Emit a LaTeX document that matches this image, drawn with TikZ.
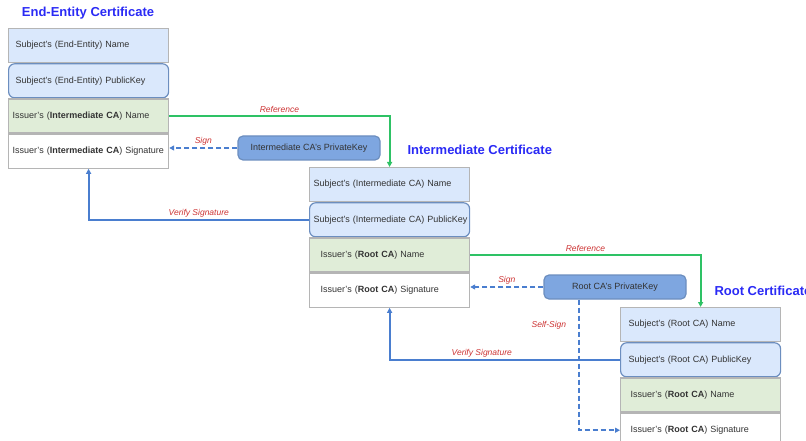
\documentclass[tikz,border=0pt]{standalone}
\usepackage{fontspec}
\setsansfont{Liberation Sans}
\usepackage{xcolor}
\usetikzlibrary{arrows.meta,positioning,calc}

\definecolor{subjfill}{HTML}{DAE8FC}
\definecolor{keyline}{HTML}{6C8EBF}
\definecolor{issfill}{HTML}{E0EDD8}
\definecolor{cellline}{HTML}{B5B5B5}
\definecolor{privfill}{HTML}{7EA6E0}
\definecolor{titleblue}{HTML}{2A2AF5}
\definecolor{lblred}{HTML}{CC3333}
\definecolor{refgreen}{HTML}{2EC265}
\definecolor{arrowblue}{HTML}{4A7ECF}
\definecolor{txtgray}{HTML}{333333}

\begin{document}
\begin{tikzpicture}[x=1pt,y=-1pt,
  font=\sffamily\fontsize{9}{11}\selectfont,
  row/.style={draw=cellline, line width=1.2pt, anchor=north west, minimum height=34pt,
    inner ysep=0pt, inner xsep=#1, text width=160pt-2*#1, align=left, text=txtgray},
  namerow/.style={row=#1, fill=subjfill},
  keyrow/.style={row=#1, fill=subjfill, draw=keyline, rounded corners=6pt},
  issrow/.style={row=#1, fill=issfill},
  sigrow/.style={row=#1, fill=white},
  title/.style={font=\sffamily\bfseries\fontsize{13}{15}\selectfont, text=titleblue},
  privkey/.style={draw=keyline, line width=1.2pt, fill=privfill, rounded corners=5pt,
    minimum width=142pt, minimum height=24pt, text=txtgray},
  lbl/.style={font=\sffamily\itshape\fontsize{8.5}{10}\selectfont, text=lblred, inner sep=2pt},
  refline/.style={draw=refgreen, line width=2pt, -{Triangle[length=5pt,width=5pt]}},
  signline/.style={draw=arrowblue, line width=2pt, dash pattern=on 5pt off 3pt,
    -{Triangle[length=5pt,width=5pt]}},
  verline/.style={draw=arrowblue, line width=2pt, -{Triangle[length=5pt,width=5pt]}}]
  \useasboundingbox (0,0) rectangle (806,441);

  % end-entity certificate
  \node[title] (eeTitle) at (88,13) {End-Entity Certificate};
  \node[namerow=7pt] (eeName) at (8,28) {Subject's (End-Entity) Name};
  \node[keyrow=7pt, below=0pt of eeName] (eeKey) {Subject's (End-Entity) PublicKey};
  \node[issrow=4pt, below=0pt of eeKey] (eeIssuer) {Issuer's (\textbf{Intermediate CA}) Name};
  \node[sigrow=4pt, below=0pt of eeIssuer] (eeSig) {\mbox{Issuer's (\textbf{Intermediate CA}) Signature}};

  % intermediate certificate
  \node[title, anchor=west] (imTitle) at (404,150) {Intermediate Certificate};
  \node[namerow=4pt] (imName) at (309,167) {Subject's (Intermediate CA) Name};
  \node[keyrow=4pt, below=0pt of imName] (imKey) {\mbox{Subject's (Intermediate CA) PublicKey}};
  \node[issrow=11pt, below=0pt of imKey] (imIssuer) {Issuer's (\textbf{Root CA}) Name};
  \node[sigrow=11pt, below=0pt of imIssuer] (imSig) {Issuer's (\textbf{Root CA}) Signature};

  % root certificate
  \node[title, anchor=west] (rtTitle) at (711,291) {Root Certificate};
  \node[namerow=8pt] (rtName) at (620,307) {Subject's (Root CA) Name};
  \node[keyrow=8pt, below=0pt of rtName] (rtKey) {Subject's (Root CA) PublicKey};
  \node[issrow=10pt, below=0pt of rtKey] (rtIssuer) {Issuer's (\textbf{Root CA}) Name};
  \node[sigrow=10pt, below=0pt of rtIssuer] (rtSig) {Issuer's (\textbf{Root CA}) Signature};

  % private keys
  \node[privkey] (imPriv) at (309,148) {Intermediate CA's PrivateKey};
  \node[privkey] (rtPriv) at (615,287) {Root CA's PrivateKey};

  % connectors
  \draw[refline] (eeIssuer.east) -| node[lbl, pos=0.25, above] {Reference} (imName.north);
  \draw[signline] (imPriv.west) -- node[lbl, above] {Sign} (imPriv.west -| eeSig.east);
  \draw[verline] (imKey.west) -| node[lbl, pos=0.25, above] {Verify Signature} (eeSig.south);

  \draw[refline] (imIssuer.east) -| node[lbl, pos=0.25, above] {Reference} (rtName.north);
  \draw[signline] (rtPriv.west) -- node[lbl, above] {Sign} (rtPriv.west -| imSig.east);
  \draw[verline] (rtKey.west) -| node[lbl, pos=0.3, above] {Verify Signature} (imSig.south);
  \draw[signline] ($(rtPriv.south west)!0.25!(rtPriv.south east)$) |-
    node[lbl, pos=0.1, left=10pt] {Self-Sign} (rtSig.west);
\end{tikzpicture}
\end{document}
